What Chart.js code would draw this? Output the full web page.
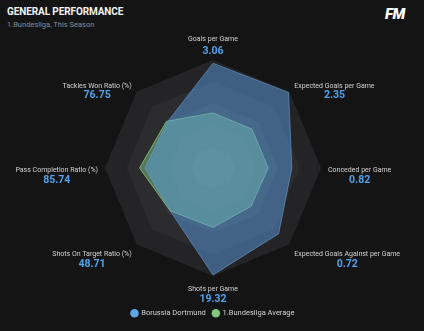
<!DOCTYPE html>
<html>
<head>
<meta charset="utf-8">
<script src="https://cdn.jsdelivr.net/npm/chart.js@4.4.1/dist/chart.umd.min.js"></script>
<style>
  html, body { margin: 0; padding: 0; background: #141414; }
  body { width: 424px; height: 331px; position: relative; overflow: hidden; font-family: Roboto, sans-serif; }
  #title { position: absolute; left: 7px; top: 6px; color: #f2f2f2; font-weight: 700; font-size: 10px; letter-spacing: -0.1px; }
  #subtitle { position: absolute; left: 7px; top: 20px; color: #8a8a8a; font-size: 7.5px; }
  #logo { position: absolute; left: 385px; top: 5px; color: #fff; font-weight: 900; font-style: italic; font-size: 15px; letter-spacing: -0.5px; }
  #wrap { position: absolute; left: 0; top: 0; width: 424px; height: 331px; }
</style>
</head>
<body>
<div id="title">GENERAL PERFORMANCE</div>
<div id="subtitle">1.Bundesliga, This Season</div>
<div id="logo">FM</div>
<div id="wrap"><canvas id="radar"></canvas></div>
<script>
const categories = [
  "Goals per Game",
  "Expected Goals per Game",
  "Conceded per Game",
  "Expected Goals Against per Game",
  "Shots per Game",
  "Shots On Target Ratio (%)",
  "Pass Completion Ratio (%)",
  "Tackles Won Ratio (%)"
];
const dortmundStats = ["3.06", "2.35", "0.82", "0.72", "19.32", "48.71", "85.74", "76.75"];
// radial position of each stat (0-100 scale)
const dortmundScores = [97, 99, 73, 86, 99, 56, 63, 60];
const leagueScores = [51, 51, 51, 50, 55, 56, 68, 61];

const bandColors = ["#242326", "#2c2b2e", "#353437", "#3f3e41", "#4a494c"];

// concentric background bands
const bands = {
  id: 'bands',
  beforeDatasetsDraw(chart) {
    const s = chart.scales.r;
    const ctx = chart.ctx;
    const vals = s.ticks.map(t => t.value).filter(v => v > 0).sort((a, b) => b - a);
    ctx.save();
    vals.forEach((v, k) => {
      const r = s.getDistanceFromCenterForValue(v);
      ctx.beginPath();
      categories.forEach((c, i) => {
        const p = s.getPointPosition(i, r);
        if (i === 0) ctx.moveTo(p.x, p.y); else ctx.lineTo(p.x, p.y);
      });
      ctx.closePath();
      ctx.fillStyle = bandColors[k] || bandColors[bandColors.length - 1];
      ctx.fill();
    });
    ctx.restore();
  }
};

// axis names + dortmund values
const axisLabels = {
  id: 'axisLabels',
  afterDraw(chart) {
    const s = chart.scales.r;
    const ctx = chart.ctx;
    ctx.save();
    ctx.textAlign = 'center';
    ctx.textBaseline = 'middle';
    categories.forEach((name, i) => {
      const p = s.getPointPosition(i, s.drawingArea + 7);
      const dx = p.x - s.xCenter;
      const dy = p.y - s.yCenter;
      const d = Math.hypot(dx, dy);
      ctx.font = '7px Roboto';
      const w = ctx.measureText(name).width;
      let x = p.x;
      if (dx > 1) x += w / 2;
      else if (dx < -1) x -= w / 2;
      let nameY, gap = 10;
      if (dy / d < -0.95) { nameY = p.y - 14; gap = 12; }
      else nameY = p.y + 2 + 4 * (dy / d);
      ctx.fillStyle = '#d2d2d2';
      ctx.fillText(name, x, nameY);
      ctx.font = 'bold 10.5px Roboto';
      ctx.fillStyle = '#4fa3ec';
      ctx.fillText(dortmundStats[i], x, nameY + gap);
    });
    ctx.restore();
  }
};

new Chart(document.getElementById("radar"), {
  type: "radar",
  data: {
    labels: categories,
    datasets: [
      {
        label: "Borussia Dortmund",
        data: dortmundScores,
        backgroundColor: "rgba(88, 155, 222, 0.5)",
        borderColor: "rgba(110, 165, 220, 0.55)",
        borderWidth: 1,
        pointRadius: 0,
        pointBackgroundColor: "#5ba6e8",
        pointBorderWidth: 0
      },
      {
        label: "1.Bundesliga Average",
        data: leagueScores,
        backgroundColor: "rgba(125, 200, 130, 0.5)",
        borderColor: "rgba(130, 190, 115, 0.9)",
        borderWidth: 1,
        pointRadius: 0,
        pointBackgroundColor: "#83c77e",
        pointBorderWidth: 0
      }
    ]
  },
  options: {
    responsive: true,
    maintainAspectRatio: false,
    animation: false,
    layout: { padding: { left: 105, right: 103, top: 34, bottom: 4 } },
    scales: {
      r: {
        min: 0,
        max: 100,
        ticks: { display: false, stepSize: 20 },
        grid: { display: false },
        angleLines: { display: false },
        pointLabels: { display: false }
      }
    },
    plugins: {
      legend: {
        position: "bottom",
        labels: {
          usePointStyle: true,
          pointStyle: "circle",
          boxWidth: 6,
          boxHeight: 6,
          padding: 7,
          color: "#d2d2d2",
          font: { family: "Roboto", size: 7.5 }
        }
      },
      tooltip: { enabled: false }
    }
  },
  plugins: [bands, axisLabels]
});
</script>
</body>
</html>
